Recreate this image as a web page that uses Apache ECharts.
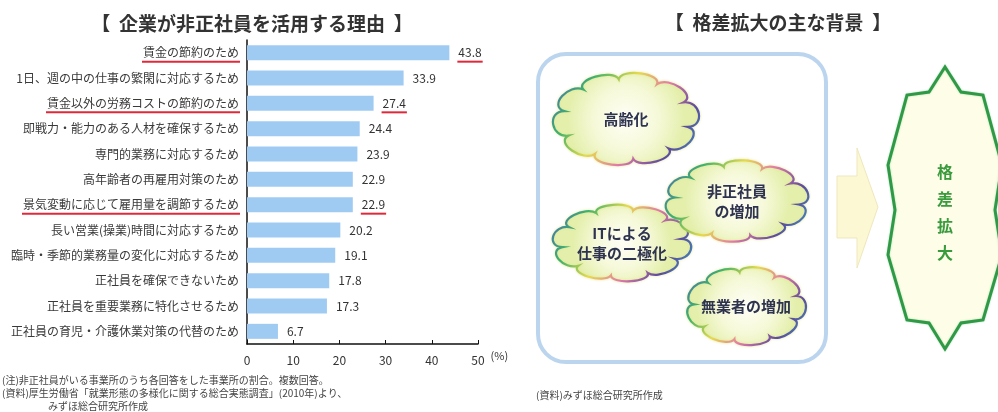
<!DOCTYPE html>
<html>
<head>
<meta charset="utf-8">
<script src="https://cdn.jsdelivr.net/npm/echarts@6/dist/echarts.min.js"></script>
<style>
  html, body { margin: 0; padding: 0; background: #fff; }
  #chart { width: 998px; height: 412px; }
</style>
</head>
<body>
<div id="chart"></div>
<script>
// Reasons companies give for using non-regular staff (multiple answers, %)
const reasons = [
  '賃金の節約のため',
  '1日、週の中の仕事の繁閑に対応するため',
  '賃金以外の労務コストの節約のため',
  '即戦力・能力のある人材を確保するため',
  '専門的業務に対応するため',
  '高年齢者の再雇用対策のため',
  '景気変動に応じて雇用量を調節するため',
  '長い営業(操業)時間に対応するため',
  '臨時・季節的業務量の変化に対応するため',
  '正社員を確保できないため',
  '正社員を重要業務に特化させるため',
  '正社員の育児・介護休業対策の代替のため'
];
const shares = [43.8, 33.9, 27.4, 24.4, 23.9, 22.9, 22.9, 20.2, 19.1, 17.8, 17.3, 6.7];
// rows whose label and value are underlined in red
const underlined = [0, 2, 6];
const axisMin = 0, axisMax = 50, axisStep = 10;

// Background factors behind widening disparity (drawn in this order)
const factorClouds = ['高齢化', 'ITによる\n仕事の二極化', '非正社員\nの増加', '無業者の増加'];
const outcomeText = '格差拡大';

const FONT = "'Noto Sans CJK JP', 'Noto Sans', sans-serif";
const LABEL_SIZE = 12;
const LABEL_MARGIN = 8;
const VALUE_DIST = 9;

// cloud placement: centre, base radii, bump count, start angle
const cloudLayout = [
  { cx: 626, cy: 119, rx: 63, ry: 40, n: 10, phase: 0.2 },
  { cx: 622, cy: 243, rx: 60, ry: 33, n: 10, phase: 0.5 },
  { cx: 737, cy: 201, rx: 62, ry: 35, n: 10, phase: 0.1 },
  { cx: 746, cy: 306, rx: 52, ry: 34, n: 9, phase: 0.4 }
];

const measureCtx = document.createElement('canvas').getContext('2d');
function textWidth(str, size) {
  measureCtx.font = size + 'px ' + FONT;
  return measureCtx.measureText(str).width;
}

// scalloped cloud outline around an ellipse
function cloudPath(cx, cy, rx, ry, n, phase, puff) {
  const step = Math.PI * 2 / n;
  const pt = (a, k) => [(cx + Math.cos(a) * rx * k).toFixed(1), (cy + Math.sin(a) * ry * k).toFixed(1)];
  const p0 = pt(phase, 1);
  let d = 'M' + p0.join(',');
  for (let i = 0; i < n; i++) {
    const a0 = phase + i * step, a1 = a0 + step;
    const c1 = pt(a0 + step * 0.08, puff);
    const c2 = pt(a1 - step * 0.08, puff);
    const p = pt(a1, 1);
    d += 'C' + c1.join(',') + ' ' + c2.join(',') + ' ' + p.join(',');
  }
  return d + 'Z';
}

const rainbow = {
  type: 'linear', x: 0, y: 0, x2: 1, y2: 1,
  colorStops: [
    { offset: 0, color: '#4a5fc4' },
    { offset: 0.22, color: '#3fb36c' },
    { offset: 0.42, color: '#e6da4a' },
    { offset: 0.6, color: '#e27aa8' },
    { offset: 0.8, color: '#5b4b9e' },
    { offset: 1, color: '#35a6c9' }
  ]
};
const cloudFill = {
  type: 'radial', x: 0.5, y: 0.5, r: 0.62,
  colorStops: [
    { offset: 0, color: '#fefef6' },
    { offset: 0.55, color: '#f6f9d8' },
    { offset: 1, color: '#e4efac' }
  ]
};

const burstPoints = [
  [945, 67], [929, 92], [907, 95], [888, 165], [895, 210], [888, 255],
  [907, 320], [929, 323], [945, 349], [961, 323], [983, 320], [1002, 255],
  [995, 210], [1002, 165], [983, 95], [961, 92]
];

const chart = echarts.init(document.getElementById('chart'), null, { renderer: 'canvas' });

chart.setOption({
  animation: false,
  textStyle: { fontFamily: FONT },
  title: [
    {
      text: '【  企業が非正社員を活用する理由  】',
      left: 247, top: 9, textAlign: 'center',
      textStyle: { fontSize: 19, fontWeight: 'bold', color: '#333', fontFamily: FONT }
    },
    {
      text: '【  格差拡大の主な背景  】',
      left: 773, top: 8, textAlign: 'center',
      textStyle: { fontSize: 19, fontWeight: 'bold', color: '#333', fontFamily: FONT }
    }
  ],
  grid: { left: 247, right: 520, top: 40, bottom: 68, containLabel: false },
  xAxis: {
    type: 'value', min: axisMin, max: axisMax, interval: axisStep,
    name: '(%)', nameLocation: 'end', nameGap: 0,
    nameTextStyle: { fontSize: 11, color: '#333', verticalAlign: 'top', padding: [6, 0, 0, 0] },
    axisLine: { show: true, lineStyle: { color: '#111', width: 1.5 } },
    axisTick: { show: true, inside: true, length: 4, lineStyle: { color: '#111' } },
    axisLabel: { fontSize: 12, color: '#333', margin: 10 },
    splitLine: { show: false }
  },
  yAxis: {
    type: 'category', data: reasons, inverse: true,
    axisLine: { show: true, lineStyle: { color: '#111', width: 1.5 } },
    axisTick: { show: false },
    axisLabel: { fontSize: LABEL_SIZE, color: '#3a3a3a', margin: LABEL_MARGIN }
  },
  series: [
    {
      type: 'bar', data: shares, barWidth: 15,
      itemStyle: { color: '#9fcbf3' },
      label: {
        show: true, position: 'right', distance: VALUE_DIST,
        fontSize: 12, color: '#333',
        formatter: p => p.value.toFixed(1)
      }
    },
    {
      // red underlines under highlighted labels and values
      type: 'custom', silent: true, clip: false, z: 5,
      data: underlined.map(i => [shares[i], i]),
      renderItem(params, api) {
        const v = api.value(0), cat = api.value(1);
        const base = api.coord([0, cat]);
        const end = api.coord([v, cat]);
        const y = base[1] + 9;
        const lw = textWidth(reasons[cat], LABEL_SIZE);
        const vw = textWidth(v.toFixed(1), 12);
        const lx = base[0] - LABEL_MARGIN + 1;
        const vx = end[0] + VALUE_DIST;
        const st = { stroke: '#e0283a', lineWidth: 2 };
        return {
          type: 'group',
          children: [
            { type: 'line', shape: { x1: lx - lw - 2, y1: y, x2: lx, y2: y }, style: st },
            { type: 'line', shape: { x1: vx - 1, y1: y, x2: vx + vw + 1, y2: y }, style: st }
          ]
        };
      }
    },
    {
      // factor clouds inside the frame
      type: 'custom', coordinateSystem: 'none', silent: true, z: 3,
      data: factorClouds.map((t, i) => [i]),
      renderItem(params, api) {
        const i = params.dataIndex;
        const c = cloudLayout[i];
        return {
          type: 'group',
          children: [
            {
              type: 'path',
              shape: { pathData: cloudPath(c.cx, c.cy, c.rx, c.ry, c.n, c.phase, 1.28) },
              style: { fill: cloudFill, stroke: rainbow, lineWidth: 2.2, shadowBlur: 3, shadowColor: 'rgba(220,220,120,0.6)' }
            },
            {
              type: 'text',
              x: c.cx, y: c.cy,
              style: {
                text: factorClouds[i], fill: '#2e3350', font: 'bold 15px ' + FONT,
                align: 'center', verticalAlign: 'middle', lineHeight: 20
              }
            }
          ]
        };
      }
    }
  ],
  graphic: [
    // notes under the bar chart
    { type: 'text', x: 2, y: 380, style: { text: '(注)非正社員がいる事業所のうち各回答をした事業所の割合。複数回答。', font: '10px ' + FONT, fill: '#444', verticalAlign: 'middle' } },
    { type: 'text', x: 2, y: 393, style: { text: '(資料)厚生労働省「就業形態の多様化に関する総合実態調査」(2010年)より、', font: '10px ' + FONT, fill: '#444', verticalAlign: 'middle' } },
    { type: 'text', x: 48, y: 406, style: { text: 'みずほ総合研究所作成', font: '10px ' + FONT, fill: '#444', verticalAlign: 'middle' } },
    { type: 'text', x: 536, y: 395, style: { text: '(資料)みずほ総合研究所作成', font: '10px ' + FONT, fill: '#444', verticalAlign: 'middle' } },

    // frame holding the factor clouds
    {
      type: 'rect', z: 0, shape: { x: 538, y: 54, width: 288, height: 308, r: 28 },
      style: { fill: '#fff', stroke: '#bcd5ef', lineWidth: 4 }
    },
    // arrow pointing to the outcome
    {
      type: 'polygon',
      shape: { points: [[837, 176], [857, 176], [857, 148], [878, 207], [857, 268], [857, 238], [837, 238]] },
      style: { fill: '#fcf8d4', stroke: '#eee7bd', lineWidth: 1 }
    },
    // outcome burst
    {
      type: 'polygon', shape: { points: burstPoints },
      style: { fill: '#fdfde8', stroke: '#2f9a45', lineWidth: 3, shadowBlur: 2, shadowColor: 'rgba(60,160,80,0.4)' }
    },
    {
      type: 'text', x: 945, y: 212,
      style: {
        text: outcomeText.split('').join('\n'), font: 'bold 16px ' + FONT, fill: '#3a9a3e',
        align: 'center', verticalAlign: 'middle', lineHeight: 27
      }
    }
  ]
});
</script>
</body>
</html>
